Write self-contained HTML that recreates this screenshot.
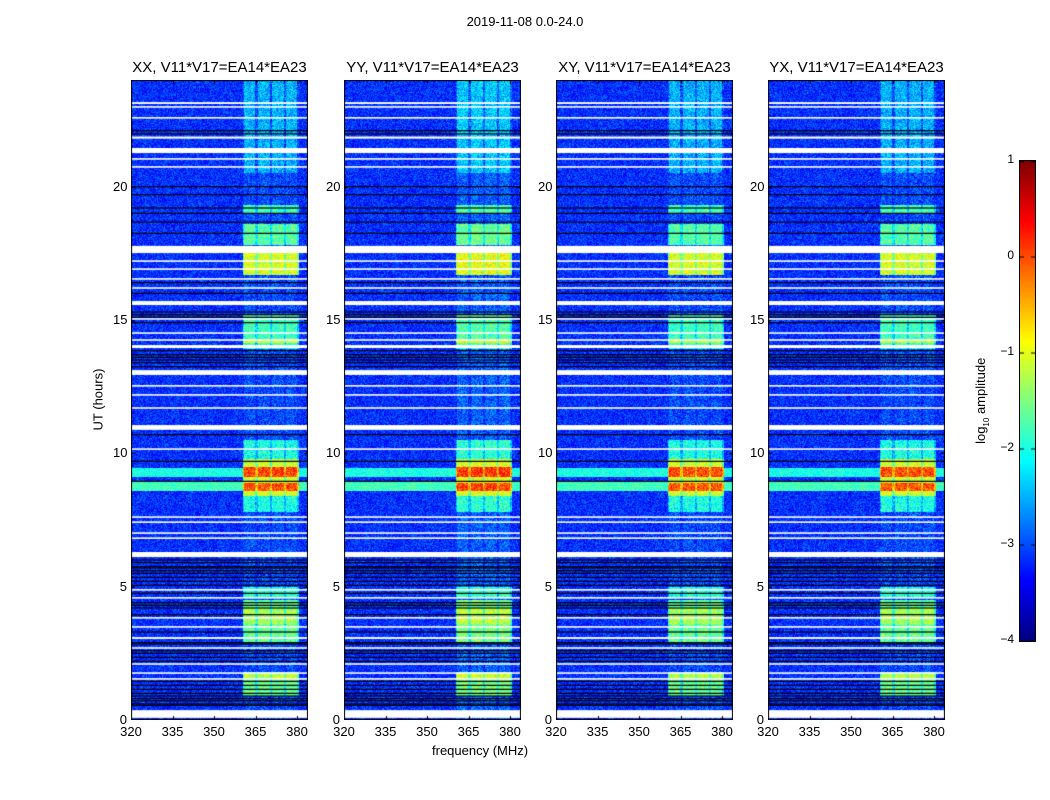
<!DOCTYPE html>
<html><head><meta charset="utf-8"><style>
body{margin:0;background:#fff;font-family:"Liberation Sans",sans-serif;}
#root{position:relative;width:1050px;height:800px;overflow:hidden;background:#fff}
.t{position:absolute;font-size:13px;color:#000;white-space:nowrap}
canvas{position:absolute}
</style></head><body>
<div id="root">
<div class="t" style="left:0;width:1050px;top:14px;text-align:center;font-size:13px">2019-11-08 0.0-24.0</div>
<div class="t" style="left:432px;top:743px">frequency (MHz)</div>
<div class="t" style="left:53px;top:392px;transform:rotate(-90deg);transform-origin:center;width:90px;text-align:center">UT (hours)</div>
<div class="t" style="left:927px;top:392px;transform:rotate(-90deg);transform-origin:center;width:110px;text-align:center">log<sub style="font-size:8px">10</sub> amplitude</div>
<canvas id="cb" width="15" height="480" style="left:1019px;top:160px;border:1px solid #000;width:15px;height:480px"></canvas>
</div>
<script>
// ---- data ----
const panelTitles=["XX, V11*V17=EA14*EA23","YY, V11*V17=EA14*EA23","XY, V11*V17=EA14*EA23","YX, V11*V17=EA14*EA23"];
const panelGain=[0,0.1,0,0];
const xTicks=[320,335,350,365,380];
const yTicks=[0,5,10,15,20];
const cbTicks=[1,0,-1,-2,-3,-4];
const flaggedRows=[[23.1,23.17],[22.96,23.02],[22.55,22.61],[21.8,21.88],[21.26,21.45],[21.01,21.07],[20.71,20.77],[17.51,17.78],[17.18,17.24],[16.88,16.94],[16.51,16.57],[16.17,16.23],[15.56,15.71],[15.01,15.07],[14.48,14.54],[14.22,14.28],[13.95,14.06],[12.94,13.12],[12.5,12.56],[12.16,12.22],[11.67,11.73],[10.88,11.06],[10.13,10.19],[7.58,7.64],[7.39,7.45],[6.98,7.04],[6.79,6.85],[6.11,6.3],[4.85,4.91],[4.55,4.61],[3.8,3.86],[3.46,3.52],[3.04,3.11],[2.67,2.73],[2.07,2.13],[1.73,1.79],[1.51,1.57],[0.08,0.37]];
const darkRows=[22.1,21.98,20.0,19.7,19.2,19.0,18.67,18.25,16.4,16.0,15.3,15.2,15.1,14.9,13.85,13.7,13.6,13.5,13.4,13.25,10.7,9.7,8.95,6.0,5.9,5.75,5.7,5.6,5.5,5.35,5.2,5.05,4.75,4.4,4.3,4.2,3.95,3.3,2.9,2.85,2.6,2.5,2.35,2.2,1.45,1.3,1.15,1.0,0.9,0.8,0.72,0.6,0.55];
const rfiStart=[0.9,1.55,2.9,3.6,4.6,7.8,8.4,8.6,9.1,9.8,13.9,14.15,16.7,17.8,19.0,20.5];
const rfiEnd=[1.8,1.75,4.5,4.2,5.0,8.4,9.8,8.9,9.5,10.5,15.2,14.3,17.5,18.6,19.3,24];
const rfiLevel=[-1.6,-1.2,-1.6,-1.3,-1.9,-2.0,-1.1,-0.05,0.0,-2.0,-1.8,-1.1,-1.05,-1.7,-1.8,-2.5];
const bbStart=[8.6,9.1];const bbEnd=[8.95,9.45];const bbLevel=[-1.8,-2.0];
const subBandLo=[360.6,365.6,370.7,375.8];const subBandHi=[364.8,369.9,375.0,380.0];
// ---- helpers ----
function jet(v){v=Math.max(0,Math.min(1,v));
 const r=Math.max(0,Math.min(1,1.5-Math.abs(4*v-3))),g=Math.max(0,Math.min(1,1.5-Math.abs(4*v-2))),b=Math.max(0,Math.min(1,1.5-Math.abs(4*v-1)));
 return [r*255|0,g*255|0,b*255|0];}
function hash(a,b,c){let h=(a*374761393+b*668265263+c*2147483647)|0;h=(h^(h>>>13))*1274126177|0;return ((h^(h>>>16))>>>0)/4294967296;}
const root=document.getElementById('root');
const PW=177,PH=640,TOP=80,LEFTS=[131,344,556,768];
const x=f=>(f-320)*(166/60);const y=h=>PH-h*(PH/24);
function label(txt,l,t,name,align){const d=document.createElement('div');d.className='t';d.textContent=txt;
 d.style.left=l+'px';d.style.top=t+'px';if(align)d.style.transform='translateX(-50%)';
 
 
 root.appendChild(d);}
panelTitles.forEach((title,p)=>{
 const L=LEFTS[p];
 const cv=document.createElement('canvas');cv.width=PW;cv.height=PH;
 cv.style.left=L+'px';cv.style.top=TOP+'px';
 
 
 root.appendChild(cv);
 const ctx=cv.getContext('2d');const img=ctx.createImageData(PW,PH);
 for(let r=0;r<PH;r++){const h=(PH-r-0.5)*24/PH;
  let bandV=-3.0;for(let i=0;i<rfiStart.length;i++)if(h>=rfiStart[i]&&h<rfiEnd[i])bandV=Math.max(bandV,rfiLevel[i]);
  let bb=-9;for(let i=0;i<bbStart.length;i++)if(h>=bbStart[i]&&h<bbEnd[i])bb=bbLevel[i];
  for(let c=0;c<PW;c++){const f=320+c*60/166;
   const n=hash(r,c,p+1)-0.5,n2=hash(c,r+7,p+3)-0.5;
   let v=-3.15+n*0.7+n2*0.3;
   let inSub=false;for(let k=0;k<4;k++)if(f>=subBandLo[k]&&f<subBandHi[k])inSub=true;
   if(f>=360.4&&f<380.5){const bv=(inSub?bandV:bandV-0.5)+panelGain[p]+n*0.8+n2*0.3;v=Math.max(v,bv);}
   if(bb>-9)v=Math.max(v,bb+n*0.6);
   let col=jet((v+4)/5);const i=(r*PW+c)*4;
   img.data[i]=col[0];img.data[i+1]=col[1];img.data[i+2]=col[2];img.data[i+3]=255;}}
 ctx.putImageData(img,0,0);
 ctx.fillStyle='#000';darkRows.forEach(h=>ctx.fillRect(0,y(h)-0.6,PW,1.2));
 ctx.fillStyle='#fff';flaggedRows.forEach(s=>ctx.fillRect(0,y(s[1]),PW,y(s[0])-y(s[1])));
 ctx.strokeStyle='#000';ctx.lineWidth=1;
 xTicks.forEach(t=>{const X=Math.round(x(t))+0.5;ctx.beginPath();ctx.moveTo(X,PH);ctx.lineTo(X,PH-4);ctx.moveTo(X,0);ctx.lineTo(X,4);ctx.stroke();});
 yTicks.forEach(t=>{const Y=Math.round(y(t))+0.5;ctx.beginPath();ctx.moveTo(0,Y);ctx.lineTo(4,Y);ctx.moveTo(PW,Y);ctx.lineTo(PW-4,Y);ctx.stroke();});
 ctx.strokeRect(0.5,0.5,PW-1,PH-1);
 label(title,L+PW/2,59,'panel-title','c');root.lastChild.style.fontSize='15px';
 xTicks.forEach(t=>label(String(t),L+x(t),724,'x-tick-label','c'));
 yTicks.forEach(t=>{label(String(t),L-18,TOP+y(t)-8,'y-tick-label');const d=root.lastChild;d.style.width='14px';d.style.textAlign='right';});
});
// colorbar
(function(){const cv=document.getElementById('cb');const ctx=cv.getContext('2d');
 for(let r=0;r<480;r++){const c=jet(1-r/479);ctx.fillStyle=`rgb(${c[0]},${c[1]},${c[2]})`;ctx.fillRect(0,r,15,1);}
 cbTicks.forEach(t=>{const Y=160+(1-t)*96;
  label(t<0?'\u2212'+(-t):String(t),989,Y-8,'colorbar-tick-label');const d=root.lastChild;d.style.width='25px';d.style.textAlign='right';d.style.fontSize='12px';
  const yy=Math.round((1-t)*96)-0.5;ctx.fillStyle='#000';ctx.fillRect(0,Math.max(0,yy),4,1);ctx.fillRect(11,Math.max(0,yy),4,1);});
})();
</script>
</body></html>
